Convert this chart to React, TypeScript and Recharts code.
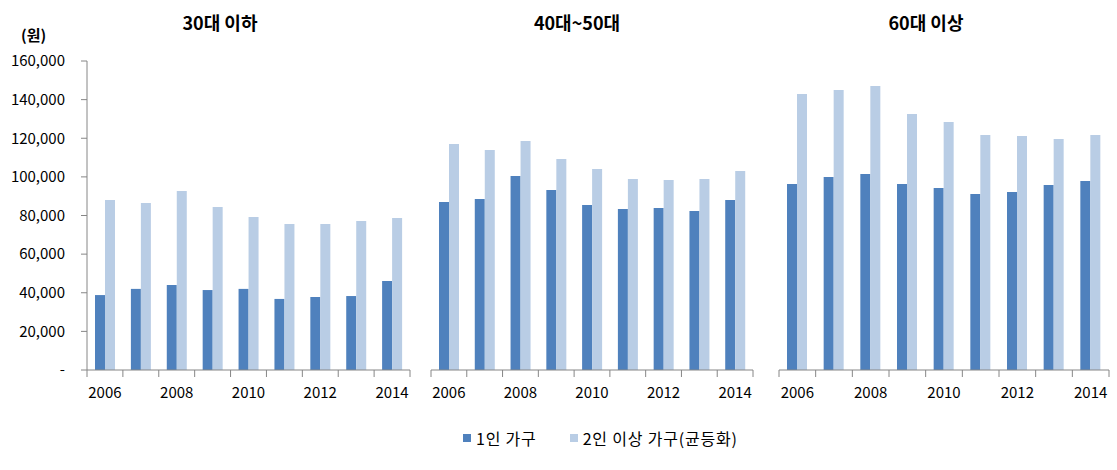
import React from 'react';
import { BarChart, Bar, XAxis, YAxis } from 'recharts';

const years = ['2006', '2007', '2008', '2009', '2010', '2011', '2012', '2013', '2014'];
const panelTitles = ['30대 이하', '40대~50대', '60대 이상'];
const seriesNames = ['1인 가구', '2인 이상 가구(균등화)'];
const yTicks = [0, 20000, 40000, 60000, 80000, 100000, 120000, 140000, 160000];

// 1인 가구
const single30 = [38800, 42000, 44000, 41400, 42000, 36800, 37800, 38300, 46100];
const single4050 = [87000, 88500, 100400, 93200, 85400, 83400, 83900, 82300, 88000];
const single60 = [96300, 99900, 101500, 96300, 94200, 91100, 92200, 95800, 97900];
// 2인 이상 가구(균등화)
const multi30 = [88000, 86500, 92700, 84400, 79200, 75600, 75600, 77100, 78700];
const multi4050 = [117000, 113900, 118600, 109200, 104100, 98900, 98400, 98900, 103000];
const multi60 = [142900, 145000, 147000, 132500, 128400, 121700, 121200, 119600, 121700];

const DARK = '#4F81BD';
const LIGHT = '#B9CDE5';
const AXIS = '#868686';
const FONT = '"Noto Sans CJK KR", "Noto Sans", sans-serif';

const build = (a: number[], b: number[]) =>
  years.map((y, i) => ({ year: y, single: a[i], multi: b[i] }));

const panels = [
  { data: build(single30, multi30), left: 0, width: 420, ml: 0, mr: 10, showY: true },
  { data: build(single4050, multi4050), left: 420, width: 340, ml: 11, mr: 7, showY: false },
  { data: build(single60, multi60), left: 770, width: 347, ml: 9, mr: 8, showY: false },
];

const titlePos = [220, 577, 926];

const makeTick = (band: number) => (props: any) => {
  const { x, y, payload, index } = props;
  const showLabel = index % 2 === 0;
  return (
    <g>
      <line x1={x - band / 2} x2={x - band / 2} y1={y} y2={y + 7} stroke={AXIS} />
      {index === years.length - 1 && (
        <line x1={x + band / 2} x2={x + band / 2} y1={y} y2={y + 7} stroke={AXIS} />
      )}
      {showLabel && (
        <text x={x} y={y + 28} textAnchor="middle" fontSize={15} fontFamily={FONT} fill="#000">
          {payload.value}
        </text>
      )}
    </g>
  );
};

const fmt = (v: number) => (v === 0 ? '-' : v.toLocaleString('en-US'));

export default function App() {
  return (
    <div style={{ position: 'fixed', left: 0, top: 0, width: 1117, height: 470, background: '#fff', fontFamily: FONT }}>
      {panelTitles.map((t, i) => (
        <div
          key={t}
          style={{
            position: 'absolute',
            left: titlePos[i] - 100,
            width: 200,
            top: 8,
            textAlign: 'center',
            fontWeight: 'bold',
            fontSize: 18,
            lineHeight: '28px',
          }}
        >
          {t}
        </div>
      ))}
      <div style={{ position: 'absolute', left: 21, top: 23, fontSize: 15, fontWeight: 'bold', lineHeight: '24px' }}>(원)</div>

      {panels.map((p, i) => {
        const plotW = p.width - (p.showY ? 87 : p.ml) - p.mr;
        const band = plotW / years.length;
        return (
          <div key={i} style={{ position: 'absolute', left: p.left, top: 0 }}>
            <BarChart
              width={p.width}
              height={420}
              data={p.data}
              margin={{ top: 61, right: p.mr, bottom: 20, left: p.ml }}
              barGap={0}
            >
              <XAxis
                dataKey="year"
                interval={0}
                height={30}
                tickSize={0}
                tickMargin={0}
                axisLine={{ stroke: AXIS }}
                tickLine={false}
                tick={makeTick(band)}
              />
              <YAxis
                hide={!p.showY}
                width={87}
                domain={[0, 160000]}
                ticks={yTicks}
                interval={0}
                tickFormatter={fmt}
                axisLine={{ stroke: AXIS }}
                tickLine={{ stroke: AXIS }}
                tickSize={6}
                tickMargin={16}
                tick={{ fontSize: 15, fill: '#000', fontFamily: FONT }}
              />
              <Bar dataKey="single" fill={DARK} barSize={10} isAnimationActive={false} />
              <Bar dataKey="multi" fill={LIGHT} barSize={10} isAnimationActive={false} />
            </BarChart>
          </div>
        );
      })}

      <div style={{ position: 'absolute', left: 463, top: 427, display: 'flex', alignItems: 'center', fontSize: 16, letterSpacing: 0.8, lineHeight: '22px' }}>
        <span style={{ width: 8, height: 8, background: DARK, display: 'inline-block', marginRight: 5 }} />
        <span>{seriesNames[0]}</span>
        <span style={{ width: 8, height: 8, background: LIGHT, display: 'inline-block', marginLeft: 33, marginRight: 5 }} />
        <span>{seriesNames[1]}</span>
      </div>
    </div>
  );
}
